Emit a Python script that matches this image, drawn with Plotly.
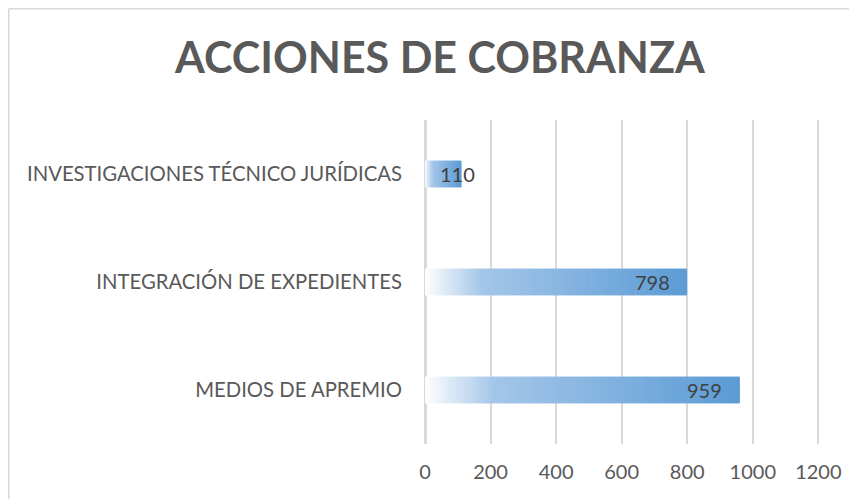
import plotly.graph_objects as go

# ---- data ----
categories = ["MEDIOS DE APREMIO", "INTEGRACIÓN DE EXPEDIENTES", "INVESTIGACIONES TÉCNICO JURÍDICAS"]
values = [959, 798, 110]
x_ticks = [0, 200, 400, 600, 800, 1000, 1200]
title_text = "ACCIONES DE COBRANZA"

# ---- gradient style (white -> blue, along each bar) ----
stops = [(0.0, (255, 255, 255)), (0.22, (164, 198, 233)), (1.0, (91, 155, 213))]


def grad(t):
    for (t0, c0), (t1, c1) in zip(stops[:-1], stops[1:]):
        if t <= t1:
            f = (t - t0) / (t1 - t0) if t1 > t0 else 0
            return "rgb(%d,%d,%d)" % tuple(round(a + (b - a) * f) for a, b in zip(c0, c1))
    return "rgb(%d,%d,%d)" % stops[-1][1]


seg_y, seg_x, seg_base, seg_col = [], [], [], []
for cat, v in zip(categories, values):
    n = max(12, min(80, int(v / 6)))
    w = v / n
    for k in range(n):
        seg_y.append(cat)
        seg_x.append(w)
        seg_base.append(k * w)
        seg_col.append(grad((k + 0.5) / n))

fig = go.Figure()
fig.add_trace(go.Bar(
    y=seg_y, x=seg_x, base=seg_base, orientation="h",
    marker=dict(color=seg_col, line=dict(width=1, color=seg_col)),
    width=0.24, hoverinfo="skip", showlegend=False,
))

font_family = "Lato, 'Open Sans', sans-serif"

# data labels
for cat, v in zip(categories, values):
    if v < 200:
        fig.add_annotation(x=0, y=cat, text=str(v), showarrow=False, xanchor="left",
                           xshift=13, font=dict(family=font_family, size=20, color="#404040"))
    else:
        fig.add_annotation(x=v, y=cat, text=str(v), showarrow=False, xanchor="right",
                           xshift=-15, font=dict(family=font_family, size=20, color="#404040"))

# geometry (page is offset by the browser's 8px body margin)
W, H = 849, 491
X_MAX = 1205
L, T, PW, PH = 417, 112, round(393 * X_MAX / 1200), 324

# outer frame (top and left edges)
fx = (0.75 - L) / PW
fy = 1 + (T - 0.75) / PH
fig.add_shape(type="line", xref="paper", yref="paper", x0=fx, x1=3, y0=fy, y1=fy,
              line=dict(color="#d9d9d9", width=1.5))
fig.add_shape(type="line", xref="paper", yref="paper", x0=fx, x1=fx, y0=-2, y1=fy,
              line=dict(color="#d9d9d9", width=1.5))

fig.update_layout(
    width=W, height=H,
    margin=dict(l=L, r=W - L - PW, t=T, b=H - T - PH),
    paper_bgcolor="white", plot_bgcolor="white",
    title=dict(text="<b>%s</b>" % title_text, x=432 / W, xanchor="center", y=1 - 50 / H,
               yanchor="middle", font=dict(family=font_family, size=43, color="#595959")),
    xaxis=dict(range=[0, X_MAX], tickvals=x_ticks, showgrid=True, gridcolor="#d9d9d9", gridwidth=1.5,
               zeroline=True, zerolinecolor="#d9d9d9", zerolinewidth=3, showline=False,
               ticks="", ticklabelstandoff=14,
               tickfont=dict(family=font_family, size=20, color="#595959")),
    yaxis=dict(categoryorder="array", categoryarray=categories, showgrid=False, zeroline=False,
               showline=False, ticks="", ticklabelstandoff=22,
               tickfont=dict(family=font_family, size=20.3, color="#595959")),
    barmode="overlay",
    font=dict(family=font_family),
)

fig.write_html("out.html")
